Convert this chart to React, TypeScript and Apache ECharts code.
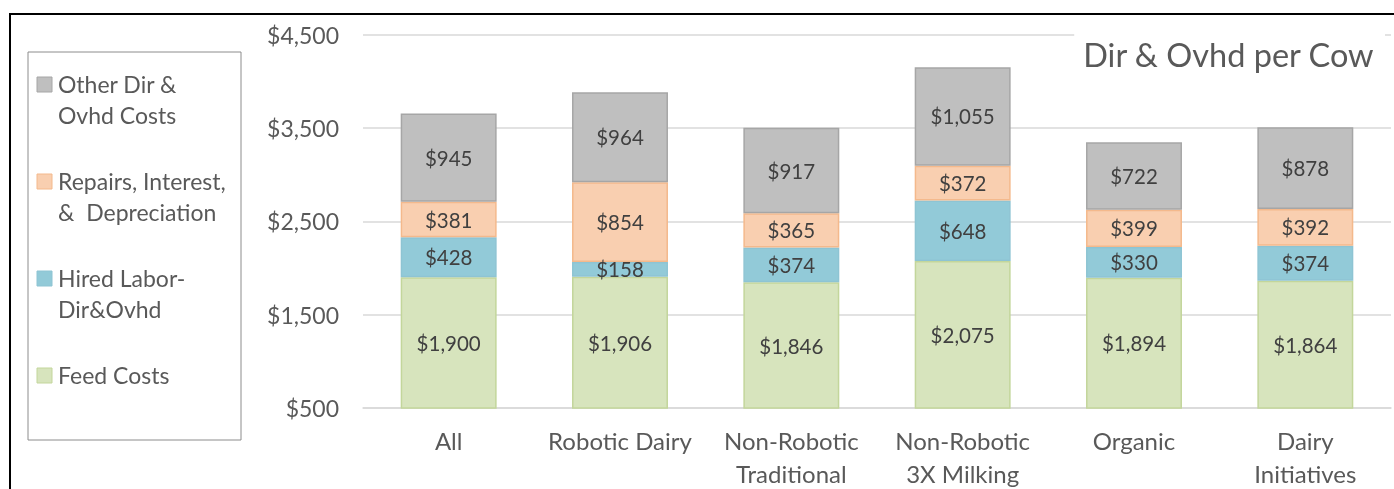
import React, { useEffect, useRef } from "react";
import * as echarts from "echarts";

const categories = ["All", "Robotic Dairy", "Non-Robotic\nTraditional", "Non-Robotic\n3X Milking", "Organic", "Dairy\nInitiatives"];
const feedCosts = [1900, 1906, 1846, 2075, 1894, 1864];
const hiredLabor = [428, 158, 374, 648, 330, 374];
const repairs = [381, 854, 365, 372, 399, 392];
const otherCosts = [945, 964, 917, 1055, 722, 878];
const seriesNames = ["Feed Costs", "Hired Labor-\nDir&Ovhd", "Repairs, Interest,\n&  Depreciation", "Other Dir &\nOvhd Costs"];
const yTicks = { min: 500, max: 4500, interval: 1000 };

const FONT = "Lato, 'Open Sans', sans-serif";
const fills = ["#d7e4bd", "#92cad8", "#f9cfb0", "#bfbfbf"];
const borders = ["#c3d69b", "#8ec4d3", "#f4b98c", "#a6a6a6"];

export default function App() {
  const ref = useRef<HTMLDivElement>(null);
  useEffect(() => {
    if (!ref.current) return;
    const chart = echarts.init(ref.current, null, { renderer: "svg" });
    const data = [feedCosts, hiredLabor, repairs, otherCosts];
    const legendOrder = [3, 2, 1, 0];
    const legendGraphics: any[] = [
      { type: "rect", shape: { x: 28, y: 52, width: 213, height: 388 }, style: { fill: "#fff", stroke: "#8c8c8c", lineWidth: 1 }, z: 10 },
    ];
    legendOrder.forEach((si, i) => {
      const y = 77 + i * 97;
      legendGraphics.push({ type: "rect", shape: { x: 37, y, width: 15, height: 15 }, style: { fill: fills[si], stroke: borders[si], lineWidth: 1 }, z: 11 });
      legendGraphics.push({ type: "text", x: 58, y: y - 8.5, style: { text: seriesNames[si], font: `23px ${FONT}`, fill: "#595959", lineHeight: 31 }, z: 11 });
    });
    chart.setOption({
      animation: false,
      title: {
        text: "Dir & Ovhd per Cow",
        right: 9,
        top: 34,
        backgroundColor: "#fff",
        padding: [4, 10, 4, 9],
        textStyle: { fontFamily: FONT, fontSize: 32.5, fontWeight: "normal", color: "#595959" },
        z: 10,
      },
      grid: { left: 363, right: 3, top: 34.5, bottom: 81, containLabel: false, outerBoundsMode: "none" },
      xAxis: {
        type: "category",
        data: categories,
        axisLine: { show: true, lineStyle: { color: "#d9d9d9", width: 1.5 } },
        axisTick: { show: false },
        axisLabel: { fontFamily: FONT, fontSize: 24, color: "#595959", lineHeight: 33, margin: 16, interval: 0 },
      },
      yAxis: {
        type: "value",
        min: yTicks.min,
        max: yTicks.max,
        interval: yTicks.interval,
        axisLine: { show: false },
        axisTick: { show: false },
        splitLine: { lineStyle: { color: "#d9d9d9", width: 1.5 } },
        axisLabel: {
          fontFamily: FONT,
          fontSize: 23,
          color: "#595959",
          margin: 24,
          formatter: (v: number) => "$" + v.toLocaleString("en-US"),
        },
      },
      series: data.map((d, i) => ({
        name: seriesNames[i],
        type: "bar",
        stack: "total",
        data: d,
        barWidth: "56%",
        itemStyle: { color: fills[i], borderColor: borders[i], borderWidth: 1.5 },
        label: {
          show: true,
          position: "inside",
          fontFamily: FONT,
          fontSize: 20.5,
          color: "#404040",
          formatter: (p: any) => "$" + Number(p.value).toLocaleString("en-US"),
        },
      })),
      graphic: [
        ...legendGraphics,
        { type: "rect", shape: { x: 10, y: 14, width: 1420, height: 520 }, style: { fill: "none", stroke: "#000", lineWidth: 2 }, z: 20 },
      ],
    });
    return () => chart.dispose();
  }, []);
  return <div ref={ref} style={{ position: "fixed", left: 0, top: 0, width: 1394, height: 489 }} />;
}
